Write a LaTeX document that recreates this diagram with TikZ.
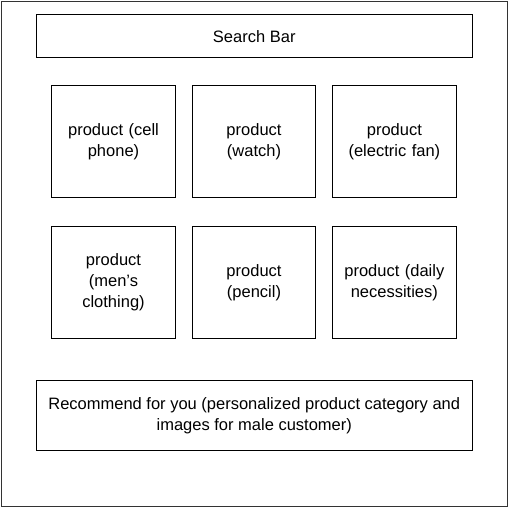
\documentclass[tikz,border=0pt]{standalone}
\usepackage{fontspec}
\setmainfont{Liberation Sans}
\begin{document}
\begin{tikzpicture}[x=1pt,y=-1pt,
  box/.style={draw=black,line width=1pt,rectangle,inner sep=0pt,align=center,
    font=\fontsize{16.5}{21}\selectfont},
  prod/.style={box,minimum width=123.5pt,minimum height=112.5pt,text width=110pt},
  wide/.style={box,minimum width=435.5pt}]
\useasboundingbox (0,0) rectangle (510,510);
\node[draw=black!80,line width=1pt,rectangle,inner sep=0pt,minimum width=506pt,minimum height=505pt] (frame) at (254.5,254) {};
\node[wide,minimum height=42.5pt] (search) at (254.25,36.25) {Search Bar};
\node[prod] (p1) at (113.5,141.65) {product (cell\\phone)};
\node[prod] (p2) at (254,141.65) {product\\(watch)};
\node[prod] (p3) at (394.35,141.65) {product\\(electric fan)};
\node[prod] (p4) at (113.5,282.4) {product\\(men’s\\clothing)};
\node[prod] (p5) at (254,282.4) {product\\(pencil)};
\node[prod] (p6) at (394.35,282.4) {product (daily\\necessities)};
\node[wide,minimum height=70pt] (rec) at (254.25,415.7) {Recommend for you (personalized product category and\\images for male customer)};
\end{tikzpicture}
\end{document}
